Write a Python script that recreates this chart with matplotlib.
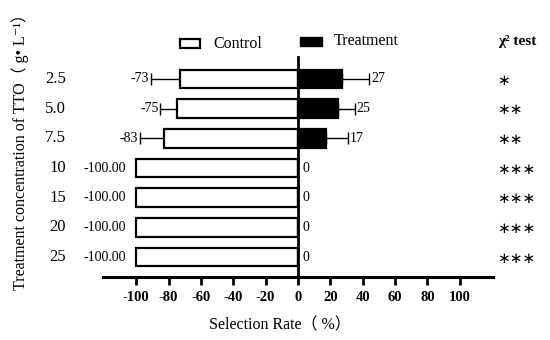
import matplotlib
matplotlib.use("Agg")
import matplotlib.pyplot as plt
import matplotlib.transforms as mtransforms
from matplotlib.patches import Rectangle
import numpy as np

plt.rcParams['font.family'] = ['Liberation Serif', 'DejaVu Serif', 'Noto Sans CJK SC']

concentrations = ['2.5', '5.0', '7.5', '10', '15', '20', '25']
control = [-73, -75, -83, -100, -100, -100, -100]
control_err = [18, 10, 14.5, 0, 0, 0, 0]
treatment = [27, 25, 17, 0, 0, 0, 0]
treatment_err = [17, 10, 14, 0, 0, 0, 0]
control_labels = ['-73', '-75', '-83', '-100.00', '-100.00', '-100.00', '-100.00']
treatment_labels = ['27', '25', '17', '0', '0', '0', '0']
significance = ['*', '**', '**', '***', '***', '***', '***']
x_ticks = [-100, -80, -60, -40, -20, 0, 20, 40, 60, 80, 100]

W, H = 550, 340
fig = plt.figure(figsize=(5.5, 3.4), dpi=100)
ax = fig.add_axes([103 / W, 1 - 277 / H, 390 / W, 220 / H])

y = np.arange(len(concentrations))
bar_h = 0.63

ax.barh(y, control, height=bar_h, color='white', edgecolor='black', linewidth=1.6, zorder=2)
ax.barh(y, treatment, height=bar_h, color='black', edgecolor='black', linewidth=1.6, zorder=2)

# one-sided error bars
c_err = np.array(control_err)
t_err = np.array(treatment_err)
m = c_err > 0
ax.errorbar(np.array(control)[m], y[m], xerr=[c_err[m], np.zeros(m.sum())], fmt='none',
            ecolor='black', elinewidth=1.0, capsize=4, capthick=1.0, zorder=1)
m = t_err > 0
ax.errorbar(np.array(treatment)[m], y[m], xerr=[np.zeros(m.sum()), t_err[m]], fmt='none',
            ecolor='black', elinewidth=1.0, capsize=4, capthick=1.0, zorder=1)

# value labels
for i in range(len(y)):
    if control_err[i] > 0:
        ax.text(control[i] - control_err[i] - 1.2, y[i], control_labels[i], ha='right', va='center', fontsize=10)
    else:
        ax.text(control[i] - 6, y[i], control_labels[i], ha='right', va='center', fontsize=10)
    if treatment_err[i] > 0:
        ax.text(treatment[i] + treatment_err[i] + 1.2, y[i], treatment_labels[i], ha='left', va='center', fontsize=10)
    else:
        ax.text(treatment[i] + 2.5, y[i], treatment_labels[i], ha='left', va='center', fontsize=10)

ax.set_xlim(-120.5, 120.5)
ax.set_ylim(len(y) - 1 + 0.67, -0.74)

for s in ['top', 'right']:
    ax.spines[s].set_visible(False)
ax.spines['left'].set_position(('data', 0))
ax.spines['left'].set_linewidth(2)
ax.spines['left'].set_zorder(3)
ax.spines['bottom'].set_linewidth(2.2)

ax.set_xticks(x_ticks)
ax.set_xticklabels([str(v) for v in x_ticks], fontweight='bold', fontsize=10.5)
ax.tick_params(axis='x', direction='out', length=6, width=2, pad=4)
ax.set_yticks(y)
ax.set_yticklabels([])
ax.tick_params(axis='y', direction='out', length=6, width=2)

# category labels far left
trans = mtransforms.blended_transform_factory(fig.transFigure, ax.transData)
for i, c in enumerate(concentrations):
    ax.text(66 / W, y[i], c, transform=trans, ha='right', va='center', fontsize=12)
    ax.text(497 / W, y[i] + 0.04, significance[i].replace('*', '\u2217'), transform=trans, ha='left', va='center',
            fontsize=11, family='DejaVu Sans')

fig.text(280 / W, 1 - 325 / H, 'Selection Rate\uff08 %\uff09', ha='center', va='center', fontsize=11.5)
fig.text(20 / W, 1 - 148 / H, 'Treatment concentration of TTO\uff08 g\u2022 L\u207b\u00b9\uff09', rotation=90,
         ha='center', va='center', fontsize=11.5)

# legend
fig.patches.append(Rectangle((180 / W, 1 - 48 / H), 20 / W, 9 / H, transform=fig.transFigure,
                             facecolor='white', edgecolor='black', linewidth=1.6))
fig.text(213 / W, 1 - 44 / H, 'Control', ha='left', va='center', fontsize=11.5, family='Liberation Serif')
fig.patches.append(Rectangle((300 / W, 1 - 46 / H), 22 / W, 9 / H, transform=fig.transFigure,
                             facecolor='black', edgecolor='black', linewidth=1.0))
fig.text(334 / W, 1 - 41 / H, 'Treatment', ha='left', va='center', fontsize=11.5, family='Liberation Serif')
fig.text(498 / W, 1 - 41 / H, '\u03c7\u00b2 test', ha='left', va='center', fontsize=11, fontweight='bold')

fig.savefig('out.png', dpi=100)
